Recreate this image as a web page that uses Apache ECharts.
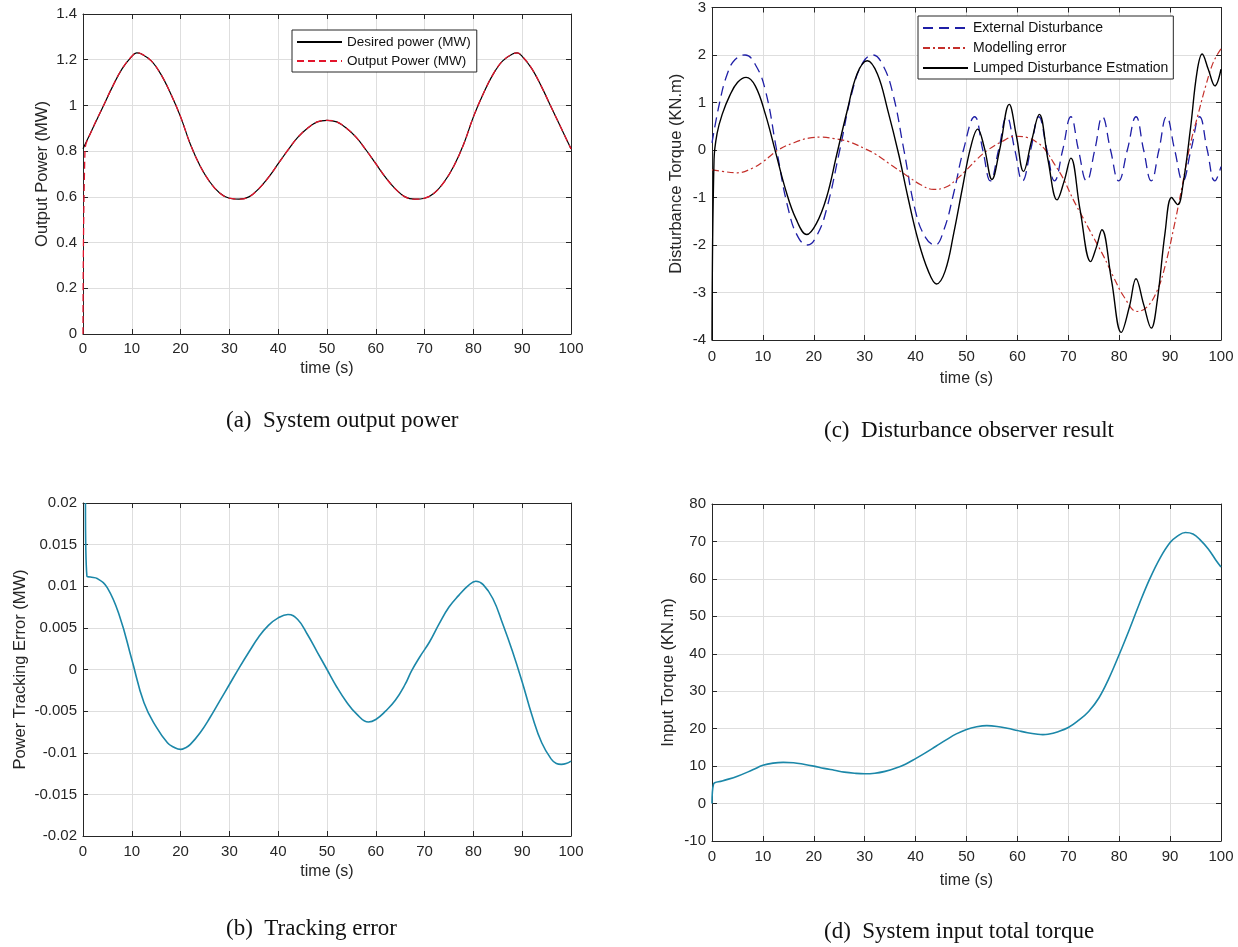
<!DOCTYPE html>
<html>
<head>
<meta charset="utf-8">
<script src="https://cdn.jsdelivr.net/npm/echarts@6/dist/echarts.min.js"></script>
<style>
html,body{margin:0;padding:0;background:#fff;}
#c{width:1238px;height:947px;}
</style>
</head>
<body>
<div id="c"></div>
<script>
// ---------- (a) System output power ----------
const tPower = [0,2,4,6,8,10,11,12,14,16,18,20,22,24,26,28,30,32,34,36,38,40,42,44,46,48,50,52,54,56,58,60,62,64,66,68,70,72,74,76,78,80,82,84,86,88,89,90,92,94,96,98,100];
const desiredPower = [0.81,0.90,0.99,1.08,1.16,1.215,1.23,1.225,1.195,1.135,1.05,0.95,0.83,0.735,0.665,0.617,0.594,0.59,0.60,0.635,0.685,0.745,0.805,0.86,0.90,0.928,0.935,0.928,0.90,0.86,0.805,0.745,0.685,0.635,0.60,0.59,0.594,0.617,0.665,0.735,0.83,0.95,1.05,1.135,1.195,1.225,1.23,1.215,1.16,1.08,0.99,0.90,0.81];
const tOutput = [0,0.4,2,4,6,8,10,11,12,14,16,18,20,22,24,26,28,30,32,34,36,38,40,42,44,46,48,50,52,54,56,58,60,62,64,66,68,70,72,74,76,78,80,82,84,86,88,89,90,92,94,96,98,100];
const outputPower = [0,0.8,0.90,0.99,1.08,1.16,1.215,1.23,1.225,1.195,1.135,1.05,0.95,0.83,0.735,0.665,0.617,0.594,0.59,0.60,0.635,0.685,0.745,0.805,0.86,0.90,0.928,0.935,0.928,0.90,0.86,0.805,0.745,0.685,0.635,0.60,0.59,0.594,0.617,0.665,0.735,0.83,0.95,1.05,1.135,1.195,1.225,1.23,1.215,1.16,1.08,0.99,0.90,0.81];

// ---------- (b) Tracking error ----------
const tErr = [0.5,0.8,1.5,3,5,7.5,10,12.5,15,17.3,18.5,20,21,22,24,26,28,30,32,34,36,38,40,42,44,46,48,50,52,54,56,58.5,60,62,64,66,67.3,69,71,73,75,77,79,80.5,82,84,86,88,90,92,94,96,97,98,99,100];
const trackErr = [0.02,0.0112,0.0111,0.0109,0.0098,0.0064,0.0012,-0.0040,-0.0069,-0.0088,-0.0093,-0.0096,-0.0094,-0.0090,-0.0076,-0.0058,-0.0038,-0.0018,0.0002,0.0021,0.0039,0.0053,0.0062,0.0066,0.0060,0.0042,0.0021,0.0000,-0.0021,-0.0039,-0.0053,-0.0063,-0.0060,-0.0050,-0.0037,-0.0018,-0.0002,0.0015,0.0033,0.0055,0.0075,0.0089,0.0101,0.0106,0.0102,0.0085,0.0055,0.0022,-0.0015,-0.0055,-0.0088,-0.0108,-0.0113,-0.0114,-0.0113,-0.0110];

// ---------- (c) Disturbance observer result ----------
const tExt = [0,1.5,3,4.5,6.5,8.5,10.5,12.7,15,17,18.8,20.6,22.5,25.1,27.6,29.7,31.6,33.5,35.5,37.7,40,42,43.8,45.5,47.5,49.4,51.6,53.2,54.7,56.3,57.9,59.5,61,62.6,64.2,65.8,67.3,68.9,70.5,72,73.6,75.2,76.7,78.3,79.9,81.6,83.3,84.8,86.3,87.8,89.3,90.9,92.5,94.1,95.8,97.3,98.8,100];
const extDist = [0.15,1.0,1.6,1.9,2.0,1.8,1.25,0,-1.25,-1.85,-2.0,-1.8,-1.25,0,1.25,1.85,2.0,1.8,1.2,0,-1.3,-1.85,-2.0,-1.7,-0.9,0,0.7,0,-0.65,0,0.7,0,-0.65,0,0.7,0,-0.65,0,0.7,0,-0.65,0,0.7,0,-0.65,0,0.7,0,-0.65,0,0.7,0,-0.65,0,0.7,0,-0.65,-0.35];
const tMod = [0,2,5,8,10,13,16,19,21.6,24,27,30,32,35,38,41,43.5,46,48,50,52,54.2,57,59.6,62,64,65.5,67,69,71,73,75,77,79,81,83.5,85.5,87.5,89,90.7,92.3,93.8,95.5,97,98.5,100];
const modErr = [-0.42,-0.45,-0.48,-0.38,-0.25,0,0.15,0.25,0.27,0.24,0.17,0.03,-0.08,-0.3,-0.52,-0.73,-0.83,-0.78,-0.62,-0.42,-0.2,0,0.18,0.29,0.26,0.15,0,-0.25,-0.6,-1.05,-1.45,-1.85,-2.25,-2.7,-3.1,-3.4,-3.3,-2.95,-2.45,-1.65,-0.8,0.04,0.75,1.35,1.85,2.13];
const tLump = [0,0.4,1,2,3.5,5,6.7,8.5,10.5,12.5,14.5,16.5,18.6,20.5,22.5,24.5,26.5,28.5,30.5,32.5,34.5,36.7,38.5,40.5,42.5,44.1,45.8,47.5,49.2,50.8,52.2,53.5,55,56.5,58.4,59.8,61.2,62.8,64.3,66,67.8,69.2,70.5,72.3,74.4,75.5,76.6,78.5,80.4,82,83.3,84.8,86.3,87.5,89,90.3,91.5,92.5,94,95.3,96.3,97.5,98.8,100];
const lumpEst = [-4,-0.2,0.35,0.75,1.15,1.42,1.53,1.35,0.75,-0.05,-0.85,-1.45,-1.78,-1.55,-1.0,-0.1,0.8,1.6,1.88,1.6,0.85,-0.1,-1.0,-1.9,-2.55,-2.82,-2.55,-1.75,-0.8,0.05,0.44,0.05,-0.62,0.0,0.96,0.3,-0.45,0.2,0.75,-0.2,-1.05,-0.65,-0.17,-1.25,-2.35,-2.05,-1.68,-2.75,-3.84,-3.3,-2.71,-3.25,-3.75,-3.15,-1.75,-1.0,-1.15,-0.75,0.45,1.65,2.02,1.7,1.35,1.7];

// ---------- (d) System input total torque ----------
const tTorque = [0,0.3,2,5,8,10,12,14,16,18,20,22,24,26,28,30,32,34,36,38,40,42,44,46,48,50,52,54,56,58,60,62,64,65,66,68,70,72,74,76,78,80,82,84,86,88,90,91.5,93,94.5,96,97.5,99,100];
const inputTorque = [0,5.2,6.0,7.3,9.0,10.2,10.8,11.0,10.9,10.5,10.0,9.4,8.9,8.4,8.1,7.95,8.1,8.6,9.4,10.5,12.0,13.6,15.3,17.0,18.6,19.8,20.5,20.8,20.6,20.1,19.5,18.9,18.5,18.4,18.5,19.2,20.3,22.2,24.6,28.2,33.5,39.8,46.5,53.5,60.0,65.5,69.7,71.5,72.4,72.0,70.3,68.0,65.0,63.2];

// ---------- axis tick settings / labels ----------
const xTicks = {min:0, max:100, interval:10};
const yA = {min:0, max:1.4, interval:0.2, name:'Output Power (MW)'};
const yB = {min:-0.02, max:0.02, interval:0.005, name:'Power Tracking Error (MW)'};
const yC = {min:-4, max:3, interval:1, name:'Disturbance Torque (KN.m)'};
const yD = {min:-10, max:80, interval:10, name:'Input Torque (KN.m)'};
const captions = ['(a)  System output power','(b)  Tracking error','(c)  Disturbance observer result','(d)  System input total torque'];
const legendA = ['Desired power (MW)','Output Power (MW)'];
const legendC = ['External Disturbance','Modelling error','Lumped Disturbance Estmation'];

const pairs = (t, v) => t.map((x, i) => [x, v[i]]);

const FONT = 'Liberation Sans, Arial, sans-serif';
const AX = '#262626';
const GRIDC = '#dedede';

const grids = [
  {left:83, top:14, width:488, height:320},
  {left:83, top:503, width:488, height:333},
  {left:712, top:6, width:509, height:334},
  {left:712, top:504, width:509, height:337}
];
const yDefs = [yA, yB, yC, yD];
const yNameGap = [32, 54, 27, 35];
const xNameGap = [27, 28, 31, 32];
const xLabelMargin = [7, 8, 9, 8];

const xAxes = [], yAxes = [];
grids.forEach((g, i) => {
  xAxes.push({
    type:'value', gridIndex:i, position:'bottom', min:xTicks.min, max:xTicks.max, interval:xTicks.interval,
    name:'time (s)', nameLocation:'middle', nameGap:xNameGap[i],
    nameTextStyle:{fontFamily:FONT, fontSize:16, color:AX},
    axisLine:{show:true, onZero:false, lineStyle:{color:AX, width:1}},
    axisTick:{show:true, inside:true, length:5, lineStyle:{color:AX}},
    axisLabel:{fontFamily:FONT, fontSize:15, color:AX, margin:xLabelMargin[i]},
    splitLine:{show:true, lineStyle:{color:GRIDC, width:1}}
  });
  xAxes.push({
    type:'value', gridIndex:i, position:'top', min:xTicks.min, max:xTicks.max, interval:xTicks.interval,
    axisLine:{show:true, onZero:false, lineStyle:{color:AX, width:1}},
    axisTick:{show:true, inside:true, length:5, lineStyle:{color:AX}},
    axisLabel:{show:false}, splitLine:{show:false}
  });
  const yd = yDefs[i];
  yAxes.push({
    type:'value', gridIndex:i, position:'left', min:yd.min, max:yd.max, interval:yd.interval,
    name:yd.name, nameLocation:'middle', nameGap:yNameGap[i],
    nameTextStyle:{fontFamily:FONT, fontSize:16.5, color:AX},
    axisLine:{show:true, onZero:false, lineStyle:{color:AX, width:1}},
    axisTick:{show:true, inside:true, length:5, lineStyle:{color:AX}},
    axisLabel:{fontFamily:FONT, fontSize:15, color:AX, margin:6},
    splitLine:{show:true, lineStyle:{color:GRIDC, width:1}}
  });
  yAxes.push({
    type:'value', gridIndex:i, position:'right', min:yd.min, max:yd.max, interval:yd.interval,
    axisLine:{show:true, onZero:false, lineStyle:{color:AX, width:1}},
    axisTick:{show:true, inside:true, length:5, lineStyle:{color:AX}},
    axisLabel:{show:false}, splitLine:{show:false}
  });
});

const lineBase = {type:'line', showSymbol:false, symbol:'none', symbolSize:0, animation:false, clip:true};
const series = [
  Object.assign({}, lineBase, {name:legendA[0], xAxisIndex:0, yAxisIndex:0, smooth:0.4, data:pairs(tPower, desiredPower),
    lineStyle:{color:'#000000', width:1.2}, itemStyle:{color:'#000000'}}),
  Object.assign({}, lineBase, {name:legendA[1], xAxisIndex:0, yAxisIndex:0, smooth:0.4, data:pairs(tOutput, outputPower),
    lineStyle:{color:'#e3152c', width:1.3, type:[7,4]}, itemStyle:{color:'#e3152c'}}),
  Object.assign({}, lineBase, {name:'err', xAxisIndex:2, yAxisIndex:2, smooth:0.45, data:pairs(tErr, trackErr),
    lineStyle:{color:'#1b87a8', width:1.6}, itemStyle:{color:'#1b87a8'}}),
  Object.assign({}, lineBase, {name:legendC[0], xAxisIndex:4, yAxisIndex:4, smooth:0.45, data:pairs(tExt, extDist),
    lineStyle:{color:'#1f1fa6', width:1.3, type:[10,6]}, itemStyle:{color:'#1f1fa6'}}),
  Object.assign({}, lineBase, {name:legendC[1], xAxisIndex:4, yAxisIndex:4, smooth:0.4, data:pairs(tMod, modErr),
    lineStyle:{color:'#c4302b', width:1.2, type:[7,3,2,3]}, itemStyle:{color:'#c4302b'}}),
  Object.assign({}, lineBase, {name:legendC[2], xAxisIndex:4, yAxisIndex:4, smooth:0.4, data:pairs(tLump, lumpEst),
    lineStyle:{color:'#000000', width:1.4}, itemStyle:{color:'#000000'}}),
  Object.assign({}, lineBase, {name:'torque', xAxisIndex:6, yAxisIndex:6, smooth:0.4, data:pairs(tTorque, inputTorque),
    lineStyle:{color:'#1b87a8', width:1.6}, itemStyle:{color:'#1b87a8'}})
];

const legendCommon = {
  orient:'vertical', itemWidth:45, itemHeight:14,
  backgroundColor:'#ffffff', borderColor:'#262626', borderWidth:1, borderRadius:0,
  itemStyle:{opacity:0}, selectedMode:false
};

const CAPFONT = '23px "Liberation Serif", "Times New Roman", serif';
const option = {
  backgroundColor:'#ffffff',
  animation:false,
  grid: grids.map(g => Object.assign({containLabel:false}, g)),
  xAxis: xAxes,
  yAxis: yAxes,
  series: series,
  legend: [
    Object.assign({}, legendCommon, {data:legendA, left:292, top:30, padding:[5,6,4,4], itemGap:5,
      textStyle:{fontFamily:FONT, fontSize:13.5, color:'#111'}}),
    Object.assign({}, legendCommon, {data:legendC, left:918, top:16, padding:[5,5,4,4], itemGap:6,
      textStyle:{fontFamily:FONT, fontSize:14, color:'#111'}})
  ],
  graphic: [
    {type:'text', left:226, top:409, style:{text:captions[0], font:CAPFONT, fill:'#111'}},
    {type:'text', left:226, top:917, style:{text:captions[1], font:CAPFONT, fill:'#111'}},
    {type:'text', left:824, top:419, style:{text:captions[2], font:CAPFONT, fill:'#111'}},
    {type:'text', left:824, top:920, style:{text:captions[3], font:CAPFONT, fill:'#111'}}
  ]
};

const chart = echarts.init(document.getElementById('c'), null, {renderer:'canvas'});
chart.setOption(option);
</script>
</body>
</html>
